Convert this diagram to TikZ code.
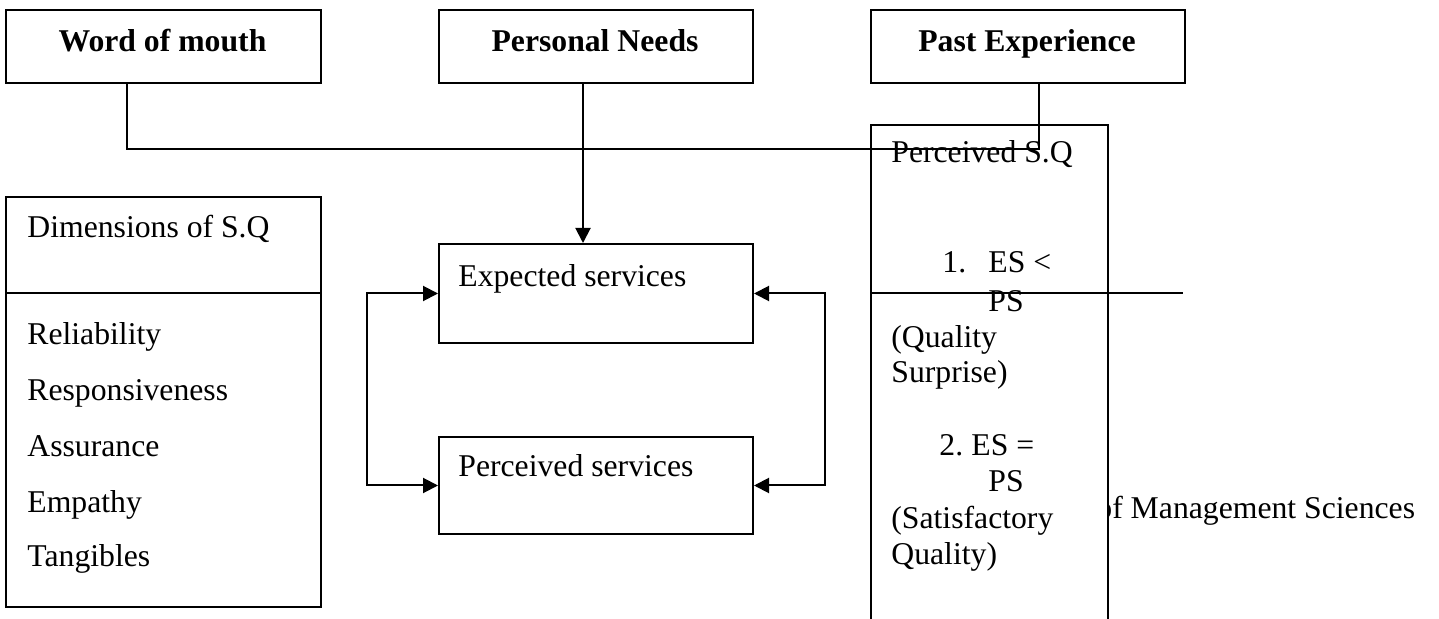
\documentclass[tikz,border=0pt]{standalone}
\usepackage{fontspec}
\setmainfont{Liberation Serif}
\usetikzlibrary{arrows.meta}
\tikzset{
  box/.style={draw, line width=1pt, rectangle, inner sep=0pt, anchor=north west},
  wbox/.style={box, fill=white},
  txt/.style={inner sep=0pt, anchor=base west, font=\fontsize{15.85pt}{19pt}\selectfont},
  btxt/.style={inner sep=0pt, anchor=base, font=\fontsize{15.85pt}{19pt}\selectfont\bfseries},
  conn/.style={line width=1pt},
  arr/.style={conn, -{Triangle[length=7.5pt,width=7.5pt]}},
  darr/.style={conn, {Triangle[length=7.5pt,width=7.5pt]}-{Triangle[length=7.5pt,width=7.5pt]}}
}
\begin{document}
\begin{tikzpicture}[x=0.5pt,y=-0.5pt]
\useasboundingbox (0,0) rectangle (1439,619);
\clip (0,0) rectangle (1439,619);
\fill[white] (0,0) rectangle (1439,619);

% top boxes
\node[box, minimum width=157.5pt, minimum height=36.5pt] (wom) at (5,9) {};
\node[box, minimum width=157pt, minimum height=36.5pt] (pn) at (438,9) {};
\node[box, minimum width=157pt, minimum height=36.5pt] (pe) at (870,9) {};
\node[btxt] (twom) at (162.5,52) {Word of mouth};
\node[btxt] (tpn) at (595,52) {Personal Needs};
\node[btxt] (tpe) at (1027,52) {Past Experience};

% dimensions box
\node[box, minimum width=157.5pt, minimum height=205pt] (dim) at (5,196) {};
\coordinate (dimy) at (0,293);
\draw[conn] (dim.west |- dimy) -- (dim.east |- dimy);
\node[txt] (tdim) at (27,238) {Dimensions of S.Q};
\node[txt] (d1) at (27,345) {Reliability};
\node[txt] (d2) at (27,401) {Responsiveness};
\node[txt] (d3) at (27,457) {Assurance};
\node[txt] (d4) at (27,512) {Empathy};
\node[txt] (d5) at (27,567) {Tangibles};

% services boxes
\node[box, minimum width=157pt, minimum height=49.5pt] (exp) at (438,243) {};
\node[box, minimum width=157pt, minimum height=48.5pt] (per) at (438,436) {};
\node[txt] (texp) at (458,287) {Expected services};
\node[txt] (tper) at (458,477) {Perceived services};
\draw[darr] (exp.west) -- ++(-71,0) |- (per.west);
\draw[darr] (exp.east) -- ++(71,0) |- (per.east);

% stray text behind the perceived S.Q box
\node[txt] (tms) at (1096,518) {of Management Sciences};

% perceived S.Q box
\node[wbox, minimum width=118.5pt, minimum height=260pt] (psq) at (870,124) {};
\node[txt] (tpsq) at (891,163) {Perceived S.Q};
\node[txt] (n1) at (942,273) {1.};
\node[txt] (e1) at (988,273) {ES <};
\node[txt] (p1) at (988,312) {PS};
\node[txt] (q1) at (891,348) {(Quality};
\node[txt] (q2) at (891,383) {Surprise)};
\node[txt] (n2) at (939,456) {2.};
\node[txt] (e2) at (971,456) {ES =};
\node[txt] (p2) at (988,492) {PS};
\node[txt] (q3) at (891,528) {(Satisfactory};
\node[txt] (q4) at (891,564) {Quality)};
\coordinate (psqr) at (1183,293);
\draw[conn] (psq.west |- psqr) -- (psqr);

% connectors from top boxes
\coordinate (w1) at (127,149);
\coordinate (w2) at (1039,149);
\draw[conn] (wom.south -| w1) -- (w1) -- (w2) -- (pe.south -| w2);
\coordinate (pnx) at (583,0);
\draw[arr] (pn.south -| pnx) -- (exp.north -| pnx);
\end{tikzpicture}
\end{document}
